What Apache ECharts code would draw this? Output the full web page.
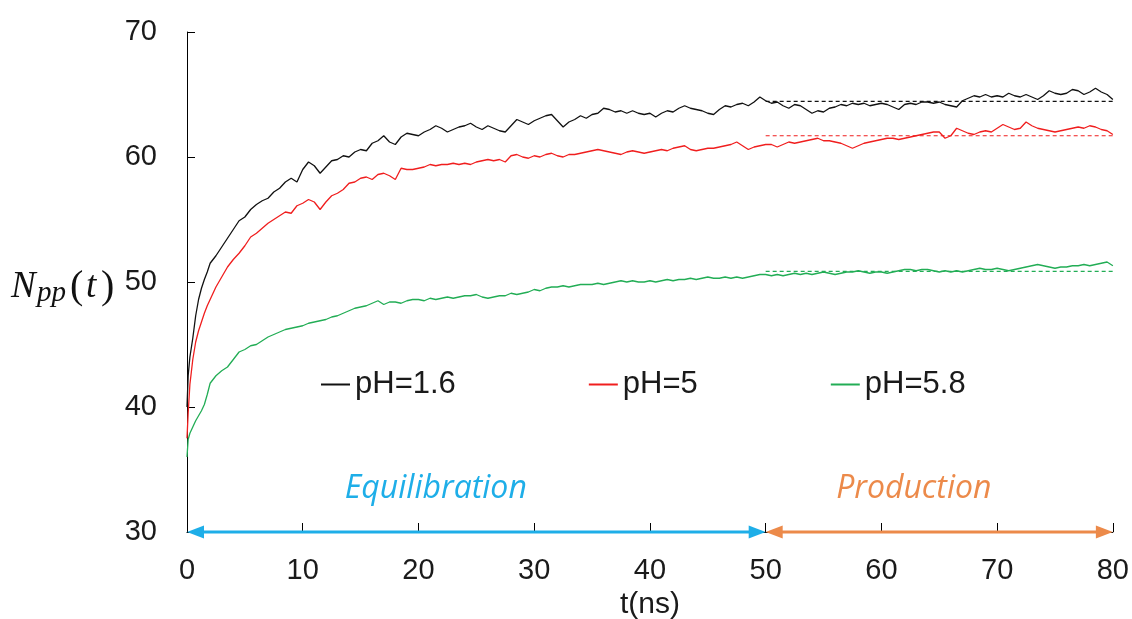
<!DOCTYPE html>
<html><head><meta charset="utf-8">
<script src="https://cdn.jsdelivr.net/npm/echarts@6.0.0/dist/echarts.min.js"></script>
<style>html,body{margin:0;padding:0;background:#fff}#c{width:1132px;height:619px}</style>
</head><body><div id="c"></div>
<script>
// time (ns)
const timeNs = [
  0, 0.1, 0.25, 0.5, 0.75, 1, 1.25, 1.5, 1.75, 2, 2.5, 3, 3.5, 4, 4.5, 5,
  5.5, 6, 6.5, 7, 7.5, 8, 8.5, 9, 9.5, 10,
  10.5, 11, 11.5, 12, 12.5, 13, 13.5, 14, 14.5, 15,
  15.5, 16, 16.5, 17, 17.5, 18, 18.5, 19, 19.5, 20,
  20.5, 21, 21.5, 22, 22.5, 23, 23.5, 24, 24.5, 25,
  25.5, 26, 26.5, 27, 27.5, 28, 28.5, 29, 29.5, 30,
  30.5, 31, 31.5, 32, 32.5, 33, 33.5, 34, 34.5, 35,
  35.5, 36, 36.5, 37, 37.5, 38, 38.5, 39, 39.5, 40,
  40.5, 41, 41.5, 42, 42.5, 43, 43.5, 44, 44.5, 45,
  45.5, 46, 46.5, 47, 47.5, 48, 48.5, 49, 49.5, 50,
  50.5, 51, 51.5, 52, 52.5, 53, 53.5, 54, 54.5, 55,
  55.5, 56, 56.5, 57, 57.5, 58, 58.5, 59, 59.5, 60,
  60.5, 61, 61.5, 62, 62.5, 63, 63.5, 64, 64.5, 65,
  65.5, 66, 66.5, 67, 67.5, 68, 68.5, 69, 69.5, 70,
  70.5, 71, 71.5, 72, 72.5, 73, 73.5, 74, 74.5, 75,
  75.5, 76, 76.5, 77, 77.5, 78, 78.5, 79, 79.5, 80
];
const npp_pH16 = [
  40.0, 42.5, 44.0, 45.5, 47.3, 48.6, 49.5, 50.2, 50.8, 51.5, 52.1, 52.8, 53.5, 54.2, 54.9, 55.2,
  55.8, 56.2, 56.5, 56.7, 57.2, 57.5, 58.0, 58.3, 58.0, 59.0,
  59.6, 59.3, 58.7, 59.2, 59.7, 59.8, 60.1, 60.0, 60.4, 60.6,
  60.5, 61.1, 61.3, 61.7, 61.2, 61.0, 61.6, 61.9, 61.8, 61.7,
  62.0, 62.2, 62.5, 62.3, 62.0, 62.2, 62.4, 62.5, 62.7, 62.4,
  62.2, 62.5, 62.3, 62.1, 62.0, 62.5, 63.0, 62.8, 62.6, 62.9,
  63.1, 63.3, 63.4, 62.9, 62.4, 62.8, 63.0, 63.3, 63.1, 63.4,
  63.5, 63.9, 63.8, 63.6, 63.7, 63.5, 63.7, 63.5, 63.4, 63.5,
  63.2, 63.5, 63.7, 63.6, 63.9, 64.1, 63.9, 63.8, 63.7, 63.5,
  63.4, 63.8, 64.1, 64.0, 64.2, 64.3, 64.1, 64.4, 64.8, 64.5,
  64.3, 64.4, 64.1, 63.9, 64.2, 64.1, 63.8, 63.5, 63.7, 63.6,
  63.9, 64.0, 64.2, 64.1, 64.3, 64.2, 64.3, 64.1, 64.2, 64.3,
  64.2, 64.0, 63.8, 64.2, 64.3, 64.2, 64.4, 64.4, 64.3, 64.4,
  64.2, 64.1, 64.0, 64.5, 64.7, 64.9, 64.8, 65.0, 64.8, 64.9,
  64.8, 65.1, 64.9, 64.8, 65.0, 64.8, 64.6, 64.9, 65.3, 65.1,
  65.0, 65.1, 65.4, 65.3, 65.0, 65.2, 65.5, 65.2, 65.0, 64.6
];
const npp_pH5 = [
  37.5, 39.5, 41.8, 43.8, 45.2, 46.1, 46.8, 47.5, 48.1, 48.6, 49.6, 50.4, 51.2, 51.8, 52.3, 52.9,
  53.6, 53.9, 54.3, 54.7, 55.0, 55.3, 55.6, 55.5, 56.1, 56.3,
  56.6, 56.4, 55.8, 56.4, 56.9, 57.1, 57.4, 57.9, 58.0, 58.3,
  58.4, 58.2, 58.6, 58.7, 58.5, 58.2, 59.1, 59.0, 59.0, 59.1,
  59.2, 59.4, 59.3, 59.4, 59.4, 59.5, 59.4, 59.5, 59.4, 59.6,
  59.7, 59.8, 59.7, 59.8, 59.6, 60.1, 60.2, 60.0, 59.9, 60.1,
  60.0, 60.2, 60.3, 60.1, 60.0, 60.2, 60.2, 60.3, 60.4, 60.5,
  60.6, 60.5, 60.4, 60.3, 60.2, 60.4, 60.5, 60.4, 60.3, 60.4,
  60.5, 60.6, 60.5, 60.7, 60.8, 60.9, 60.6, 60.5, 60.6, 60.7,
  60.7, 60.8, 60.9, 61.0, 61.2, 60.9, 60.6, 60.8, 60.9, 61.0,
  61.0, 60.8, 61.0, 61.2, 61.1, 61.2, 61.3, 61.4, 61.5, 61.3,
  61.3, 61.2, 61.1, 60.9, 60.7, 60.9, 61.1, 61.2, 61.3, 61.4,
  61.5, 61.5, 61.4, 61.5, 61.6, 61.7, 61.8, 61.9, 62.0, 62.0,
  61.5, 61.7, 62.3, 62.1, 61.9, 61.8, 62.0, 62.1, 62.0, 62.3,
  62.6, 62.4, 62.2, 62.3, 62.8, 62.5, 62.3, 62.2, 62.1, 62.0,
  62.1, 62.2, 62.3, 62.4, 62.3, 62.5, 62.4, 62.2, 62.1, 61.8
];
const npp_pH58 = [
  36.0, 37.4, 37.9, 38.4, 38.9, 39.3, 39.7, 40.2, 41.0, 41.9, 42.5, 42.9, 43.2, 43.8, 44.4, 44.6,
  44.9, 45.0, 45.3, 45.6, 45.8, 46.0, 46.2, 46.3, 46.4, 46.5,
  46.7, 46.8, 46.9, 47.0, 47.2, 47.3, 47.5, 47.7, 47.9, 48.0,
  48.1, 48.3, 48.5, 48.2, 48.4, 48.4, 48.3, 48.5, 48.6, 48.6,
  48.5, 48.7, 48.6, 48.7, 48.8, 48.7, 48.8, 48.9, 48.9, 49.0,
  48.8, 48.7, 48.8, 48.9, 48.9, 49.1, 49.0, 49.1, 49.2, 49.4,
  49.3, 49.5, 49.6, 49.6, 49.7, 49.6, 49.7, 49.8, 49.8, 49.8,
  49.9, 49.8, 49.9, 50.0, 50.1, 50.0, 50.1, 50.0, 50.0, 50.1,
  50.0, 50.1, 50.2, 50.1, 50.2, 50.2, 50.3, 50.2, 50.3, 50.4,
  50.3, 50.3, 50.4, 50.3, 50.4, 50.3, 50.4, 50.5, 50.6, 50.6,
  50.5, 50.6, 50.5, 50.6, 50.7, 50.6, 50.7, 50.6, 50.7, 50.8,
  50.7, 50.6, 50.7, 50.8, 50.8, 50.9, 50.8, 50.7, 50.8, 50.8,
  50.7, 50.8, 50.9, 51.0, 51.0, 50.9, 51.0, 51.0, 50.9, 50.8,
  50.9, 50.8, 50.9, 50.8, 50.9, 51.0, 51.1, 51.0, 51.0, 51.1,
  51.0, 50.9, 51.0, 51.1, 51.2, 51.3, 51.4, 51.3, 51.2, 51.1,
  51.2, 51.2, 51.3, 51.3, 51.4, 51.3, 51.4, 51.5, 51.6, 51.3
];
// production-phase averages (dashed lines)
const prodRange = [50, 80];
const prodMean = { 'pH=1.6': 64.45, 'pH=5': 61.7, 'pH=5.8': 50.85 };
const seriesNames = ['pH=1.6', 'pH=5', 'pH=5.8'];
const phaseLabels = ['Equilibration', 'Production'];

const colors = { 'pH=1.6': '#111111', 'pH=5': '#f01e1e', 'pH=5.8': '#22ad55' };
const values = { 'pH=1.6': npp_pH16, 'pH=5': npp_pH5, 'pH=5.8': npp_pH58 };

const chart = echarts.init(document.getElementById('c'), null, { renderer: 'canvas' });
const series = [];
seriesNames.forEach(n => {
  series.push({
    name: n, type: 'line', showSymbol: false, animation: false,
    data: timeNs.map((t, i) => [t, values[n][i]]),
    lineStyle: { color: colors[n], width: 1.3 }, itemStyle: { color: colors[n] }, z: 3
  });
});
seriesNames.forEach(n => {
  series.push({
    name: n + ' mean', type: 'line', showSymbol: false, animation: false, silent: true,
    data: prodRange.map(t => [t, prodMean[n]]),
    lineStyle: { color: colors[n], width: 1.2, type: [4, 3] }, z: 2
  });
});

const axisFont = 'Liberation Sans, Arial, sans-serif';
chart.setOption({
  animation: false,
  backgroundColor: '#ffffff',
  grid: { left: 187, top: 32, width: 926, height: 500, containLabel: false },
  xAxis: {
    type: 'value', min: 0, max: 80, interval: 10,
    axisLine: { show: true, onZero: false, lineStyle: { color: '#000', width: 1 } },
    axisTick: { show: true, inside: true, length: 9, lineStyle: { color: '#000', width: 1 } },
    axisLabel: { fontSize: 29, color: '#1a1a1a', fontFamily: axisFont, margin: 24 },
    splitLine: { show: false }
  },
  yAxis: {
    type: 'value', min: 30, max: 70, interval: 10,
    axisLine: { show: true, lineStyle: { color: '#000', width: 1 } },
    axisTick: { show: true, inside: true, length: 8, lineStyle: { color: '#000', width: 1 } },
    axisLabel: { fontSize: 29, color: '#1a1a1a', fontFamily: axisFont, margin: 30 },
    splitLine: { show: false }
  },
  legend: {
    data: seriesNames, left: 321, top: 369, padding: 0, itemGap: 133,
    icon: 'rect', itemWidth: 29, itemHeight: 2,
    textStyle: { fontSize: 31, color: '#1a1a1a', fontFamily: axisFont, padding: [0, 0, 0, 0] }
  },
  series: series
});

// annotations positioned through the chart's own scales
const px = v => chart.convertToPixel({ gridIndex: 0 }, v);
const p0 = px([0, 30]), p50 = px([50, 30]), p80 = px([80, 30]);
const blue = '#1eaee8', orange = '#ec8a4a';
const L = 17, H = 6.5;
function arrow(a, b, color) {
  return [
    { type: 'line', z: 100, shape: { x1: a[0] + L - 2, y1: a[1], x2: b[0] - L + 2, y2: b[1] }, style: { stroke: color, lineWidth: 3 } },
    { type: 'polygon', z: 100, shape: { points: [[a[0], a[1]], [a[0] + L, a[1] - H], [a[0] + L, a[1] + H]] }, style: { fill: color } },
    { type: 'polygon', z: 100, shape: { points: [[b[0], b[1]], [b[0] - L, b[1] - H], [b[0] - L, b[1] + H]] }, style: { fill: color } }
  ];
}
const eqC = px([21.5, 30]), prC = px([62.8, 30]), tC = px([40, 30]);
chart.setOption({
  graphic: [
    ...arrow(p0, p50, blue),
    ...arrow(p50, p80, orange),
    { type: 'text', z: 100, x: eqC[0], y: 489, style: { text: phaseLabels[0], fill: blue, font: 'italic 32px "Open Sans"', align: 'center', verticalAlign: 'middle' } },
    { type: 'text', z: 100, x: prC[0], y: 489, style: { text: phaseLabels[1], fill: orange, font: 'italic 32px "Open Sans"', align: 'center', verticalAlign: 'middle' } },
    { type: 'text', z: 100, x: tC[0], y: 605, style: { text: 't(ns)', fill: '#1a1a1a', font: '30px "Liberation Sans"', align: 'center', verticalAlign: 'middle' } },
    { type: 'text', z: 100, x: 11, y: 287.5, style: { text: 'N', fill: '#111', font: 'italic 37px "Liberation Serif"', align: 'left', verticalAlign: 'middle' } },
    { type: 'text', z: 100, x: 37, y: 293.5, style: { text: 'pp', fill: '#111', font: 'italic 29px "Liberation Serif"', align: 'left', verticalAlign: 'middle' } },
    { type: 'text', z: 100, x: 70, y: 287.5, style: { text: '(', fill: '#111', font: '40px "Liberation Serif"', align: 'left', verticalAlign: 'middle' } },
    { type: 'text', z: 100, x: 86, y: 287.5, style: { text: 't', fill: '#111', font: 'italic 37px "Liberation Serif"', align: 'left', verticalAlign: 'middle' } },
    { type: 'text', z: 100, x: 101, y: 287.5, style: { text: ')', fill: '#111', font: '40px "Liberation Serif"', align: 'left', verticalAlign: 'middle' } }
  ]
});
</script>
</body></html>
